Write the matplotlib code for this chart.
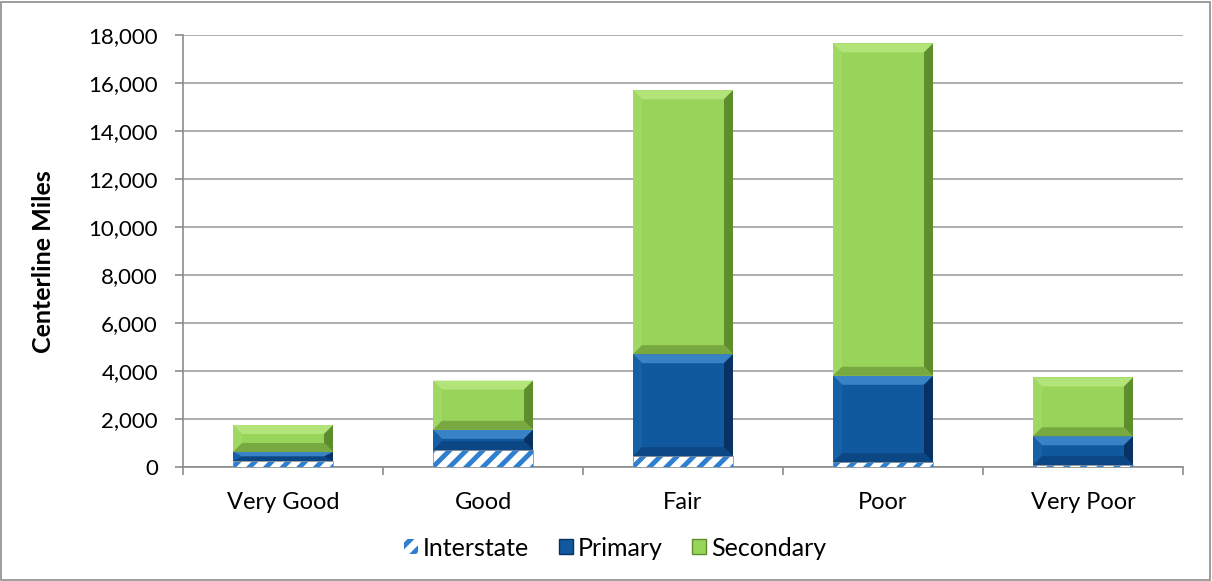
import matplotlib
matplotlib.use('Agg')
import matplotlib.pyplot as plt
from matplotlib.patches import Polygon, Rectangle
from matplotlib.ticker import FuncFormatter, MultipleLocator
import numpy as np

plt.rcParams['font.family'] = ['Lato', 'DejaVu Sans']
plt.rcParams['hatch.linewidth'] = 3.5

categories = ['Very Good', 'Good', 'Fair', 'Poor', 'Very Poor']
interstate = [250, 700, 450, 200, 80]
primary = [375, 850, 4250, 3600, 1200]
secondary = [1125, 2050, 11000, 13850, 2450]

W, H = 1212, 581
fig = plt.figure(figsize=(W / 100, H / 100), dpi=100)
ax = fig.add_axes([183 / W, 1 - 467 / H, 1000 / W, 432 / H])

x = np.arange(len(categories))
bw = 0.5
ax.set_xlim(-0.5, len(categories) - 0.5)
ax.set_ylim(0, 18000)

# interstate: white with blue diagonal stripes
ax.bar(x, interstate, bw, color='white', edgecolor='#2F7FD0', hatch='//',
       linewidth=0, zorder=3)
ax.bar(x, interstate, bw, color='none', edgecolor='#909090', linewidth=0.6, zorder=3)

# bevelled bars: face, top (light), left, right (dark), bottom (dark)
blue = ['#11599F', '#3A82C6', '#1660A8', '#073263', '#0B4785']
green = ['#99D45A', '#B3E47A', '#9FD862', '#5E8E2C', '#78A840']


def px_to_data(px_x, px_y):
    inv = ax.transData.inverted()
    p0 = inv.transform((0, 0))
    p1 = inv.transform((px_x, px_y))
    return p1[0] - p0[0], p1[1] - p0[1]


def bevel_bar(xc, bottom, height, cols, bev_px=9):
    x0, x1 = xc - bw / 2, xc + bw / 2
    y0, y1 = bottom, bottom + height
    dx, dy = px_to_data(bev_px, bev_px)
    dy = min(dy, height / 2)
    dx = min(dx, bw / 2)
    ax.add_patch(Rectangle((x0, y0), bw, height, facecolor=cols[0], edgecolor='none', zorder=3))
    xi0, xi1, yi0, yi1 = x0 + dx, x1 - dx, y0 + dy, y1 - dy
    ax.add_patch(Polygon([(x0, y1), (x1, y1), (xi1, yi1), (xi0, yi1)], closed=True,
                         facecolor=cols[1], edgecolor='none', zorder=3))
    ax.add_patch(Polygon([(x0, y0), (x0, y1), (xi0, yi1), (xi0, yi0)], closed=True,
                         facecolor=cols[2], edgecolor='none', zorder=3))
    ax.add_patch(Polygon([(x1, y0), (x1, y1), (xi1, yi1), (xi1, yi0)], closed=True,
                         facecolor=cols[3], edgecolor='none', zorder=3))
    ax.add_patch(Polygon([(x0, y0), (x1, y0), (xi1, yi0), (xi0, yi0)], closed=True,
                         facecolor=cols[4], edgecolor='none', zorder=3))


fig.canvas.draw()
for i in range(len(categories)):
    b1 = interstate[i]
    bevel_bar(x[i], b1, primary[i], blue)
    bevel_bar(x[i], b1 + primary[i], secondary[i], green)

# axes styling
ax.yaxis.set_major_locator(MultipleLocator(2000))
ax.yaxis.set_major_formatter(FuncFormatter(lambda v, p: f'{int(v):,}'))
ax.grid(axis='y', color='#A0A0A0', linewidth=1.2, zorder=0)
ax.set_axisbelow(True)
for s in ['top', 'right']:
    ax.spines[s].set_visible(False)
for s in ['left', 'bottom']:
    ax.spines[s].set_color('#8C8C8C')
    ax.spines[s].set_linewidth(1.2)

ax.set_xticks(x)
ax.set_xticklabels(categories)
ax.set_xticks(np.arange(len(categories) + 1) - 0.5, minor=True)
ax.tick_params(axis='x', which='major', length=0, pad=18, labelsize=17)
ax.tick_params(axis='x', which='minor', length=6, width=1.2, color='#8C8C8C')
ax.tick_params(axis='y', length=6, width=1.2, color='#8C8C8C', labelsize=16, pad=12)
ax.set_ylabel('Centerline Miles', fontsize=18, fontweight='bold', va='center')
ax.yaxis.set_label_coords(-0.139, 0.475)

# legend
handles = [
    Rectangle((0, 0), 1, 1, facecolor='white', edgecolor='#2F7FD0', hatch='//', linewidth=0),
    Rectangle((0, 0), 1, 1, facecolor=blue[0], edgecolor=blue[3], linewidth=1),
    Rectangle((0, 0), 1, 1, facecolor=green[0], edgecolor=green[3], linewidth=1),
]
fig.legend(handles, ['Interstate', 'Primary', 'Secondary'], loc='center',
           bbox_to_anchor=(615 / W, 1 - 548 / H), ncol=3, frameon=False, fontsize=18,
           handlelength=0.55, handleheight=0.55, handletextpad=0.2, columnspacing=1.2)

# outer border
fig.add_artist(Rectangle((1 / W, 1 / H), 1 - 3 / W, 1 - 3 / H, transform=fig.transFigure,
                         facecolor='none', edgecolor='#8C8C8C', linewidth=1.2))

fig.savefig('out.png', dpi=100)
